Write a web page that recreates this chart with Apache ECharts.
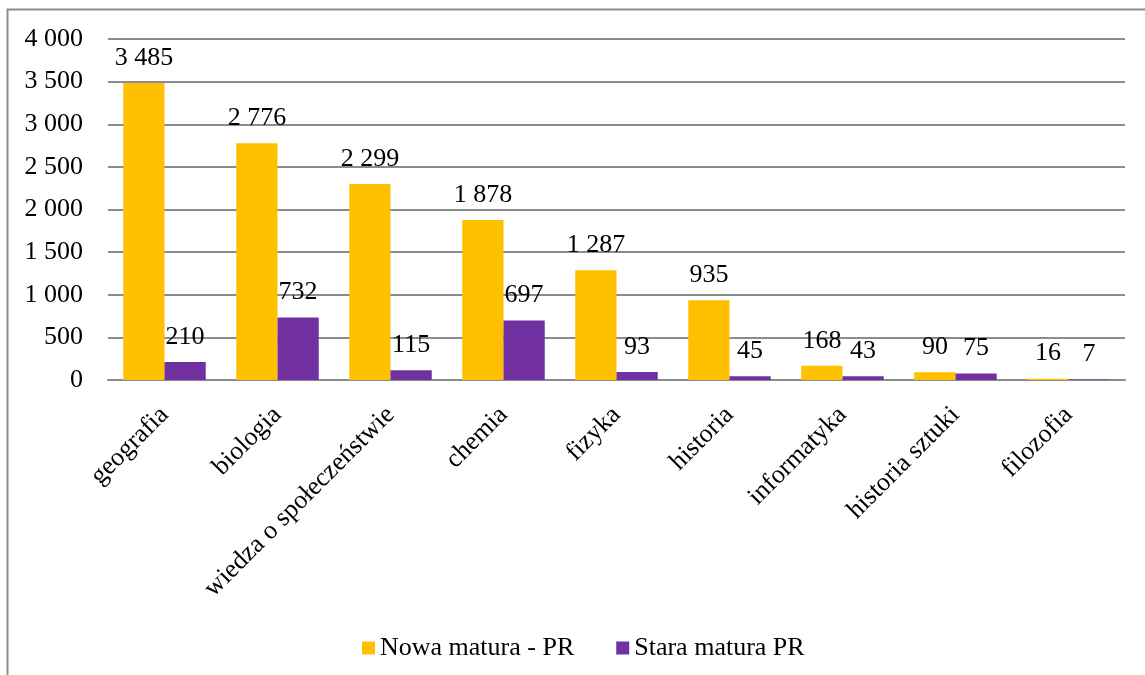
<!DOCTYPE html>
<html>
<head>
<meta charset="utf-8">
<script src="https://cdn.jsdelivr.net/npm/echarts@6/dist/echarts.min.js"></script>
<style>
  html, body { margin: 0; padding: 0; background: #fff; }
  #chart { width: 1145px; height: 675px; }
</style>
</head>
<body>
<div id="chart"></div>
<script>
// przedmioty
const categories = ['geografia', 'biologia', 'wiedza o społeczeństwie', 'chemia', 'fizyka', 'historia', 'informatyka', 'historia sztuki', 'filozofia'];
const nowaMatura = [3485, 2776, 2299, 1878, 1287, 935, 168, 90, 16];
const staraMatura = [210, 732, 115, 697, 93, 45, 43, 75, 7];
const seriesNames = ['Nowa matura - PR', 'Stara matura PR'];

const FONT = '"Liberation Serif", "Times New Roman", serif';

// 3485 -> "3 485"
function fmt(v) {
  return String(v).replace(/\B(?=(\d{3})+(?!\d))/g, ' ');
}

const chart = echarts.init(document.getElementById('chart'));

const labelStyle = {
  show: true,
  position: 'top',
  distance: 12,
  color: '#000',
  fontFamily: FONT,
  fontSize: 26,
  formatter: (p) => fmt(p.value),
};

chart.setOption({
  animation: false,
  textStyle: { fontFamily: FONT },
  graphic: [
    {
      type: 'rect',
      shape: { x: 7.5, y: 9.5, width: 1200, height: 700 },
      style: { fill: 'none', stroke: '#8c8c8c', lineWidth: 2 },
      silent: true,
    },
  ],
  grid: {
    left: 108,
    right: 20,
    top: 39,
    bottom: 295,
    containLabel: false,
  },
  legend: {
    left: 357,
    top: 630,
    itemWidth: 13,
    itemHeight: 13,
    itemGap: 42,
    icon: 'rect',
    textStyle: { fontFamily: FONT, fontSize: 26, color: '#000' },
    data: seriesNames,
  },
  xAxis: {
    type: 'category',
    data: categories,
    axisTick: { show: false },
    axisLine: { lineStyle: { color: '#8c8c8c', width: 2 } },
    axisLabel: {
      interval: 0,
      rotate: 45,
      margin: 31,
      color: '#000',
      fontFamily: FONT,
      fontSize: 26,
    },
  },
  yAxis: {
    type: 'value',
    min: 0,
    max: 4000,
    interval: 500,
    axisLine: { show: false },
    axisTick: { show: false },
    splitLine: { lineStyle: { color: '#8c8c8c', width: 2 } },
    axisLabel: {
      margin: 25,
      color: '#000',
      fontFamily: FONT,
      fontSize: 26,
      formatter: (v) => fmt(v),
    },
  },
  series: [
    {
      name: seriesNames[0],
      type: 'bar',
      data: nowaMatura,
      barGap: '0%',
      barCategoryGap: '27%',
      itemStyle: { color: '#FFC000' },
      label: labelStyle,
    },
    {
      name: seriesNames[1],
      type: 'bar',
      data: staraMatura,
      itemStyle: { color: '#7030A0' },
      label: labelStyle,
    },
  ],
});
</script>
</body>
</html>
